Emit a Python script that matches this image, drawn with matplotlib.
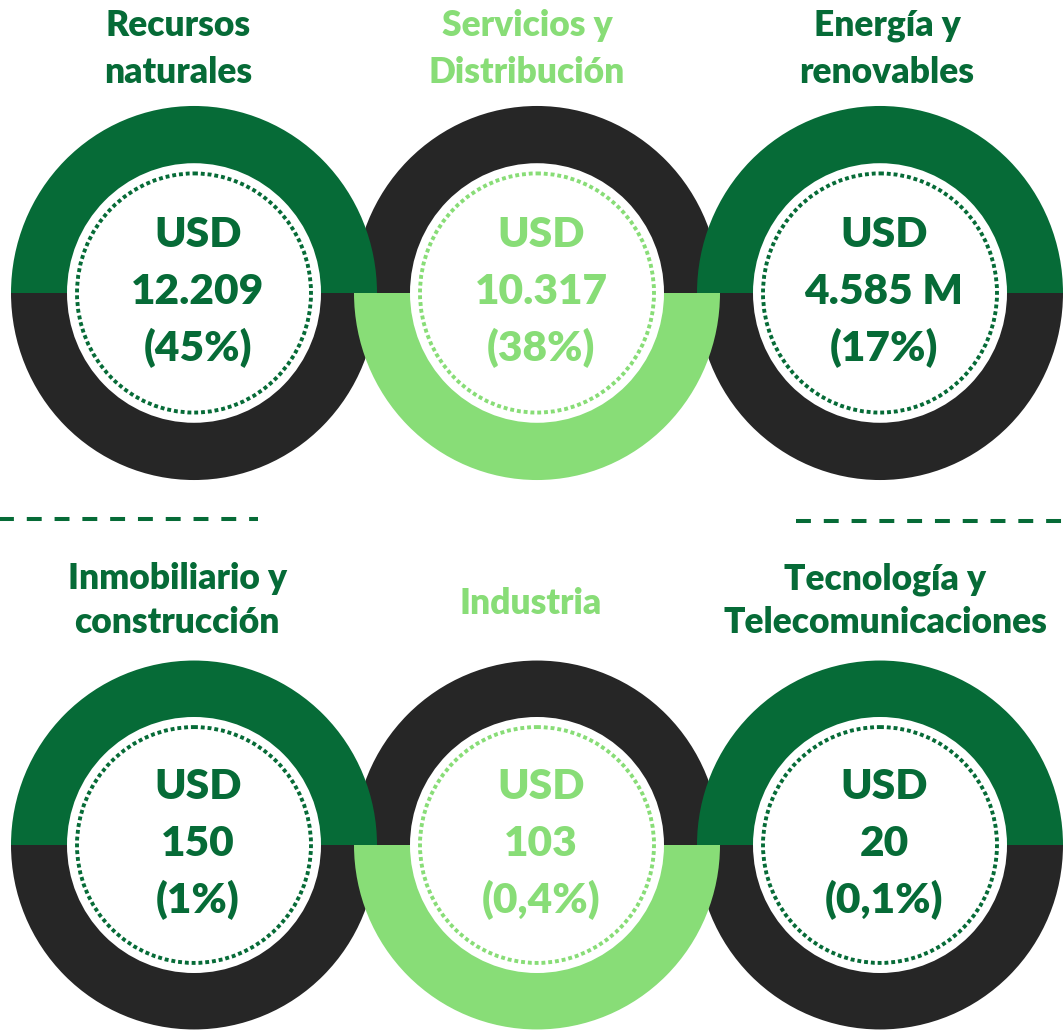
import matplotlib
matplotlib.use("Agg")
import matplotlib.pyplot as plt
from matplotlib.patches import Wedge, Circle
from matplotlib.transforms import Affine2D
from matplotlib.lines import Line2D

# ---------------- data ----------------
categories = ["Recursos\nnaturales", "Servicios y\nDistribución", "Energía y\nrenovables",
              "Inmobiliario y\nconstrucción", "Industria", "Tecnología y\nTelecomunicaciones"]
amount_labels = ["12.209", "10.317", "4.585 M", "150", "103", "20"]
share_labels = ["45%", "38%", "17%", "1%", "0,4%", "0,1%"]

# ---------------- style ----------------
DARK = "#066B37"
LIGHT = "#88DD77"
BLACK = "#262626"
FONT = ["Lato", "DejaVu Sans"]
WEIGHT = 800

W, H = 1063, 1030
fig = plt.figure(figsize=(W / 100, H / 100), dpi=100)
ax = fig.add_axes([0, 0, 1, 1])
ax.set_xlim(0, W)
ax.set_ylim(H, 0)
ax.set_aspect("auto")
ax.axis("off")

col_x = [194, 537, 880]
row_y = [293, 845]
row_sy = [1.022, 1.008]
title_x = [[178, 527, 887], [177, 531, 885]]
title_base = [[36, 83], [589, 633]]
R_OUT, R_IN, R_DOT = 183, 127, 117

for i, cat in enumerate(categories):
    row, col = divmod(i, 3)
    cx, cy, sy = col_x[col], row_y[row], row_sy[row]
    middle = (col == 1)
    tr = Affine2D().scale(1, sy) + ax.transData
    c = (cx, cy / sy)
    top_col = BLACK if middle else DARK
    bot_col = LIGHT if middle else BLACK
    accent = LIGHT if middle else DARK
    # screen-top half: angles 180..360 (y axis inverted)
    z_top = 1 if middle else 2
    z_bot = 3 if middle else 2
    ax.add_patch(Wedge(c, R_OUT, 180, 360, width=R_OUT - R_IN, transform=tr,
                       facecolor=top_col, edgecolor="none", zorder=z_top))
    ax.add_patch(Wedge(c, R_OUT, 0, 180, width=R_OUT - R_IN, transform=tr,
                       facecolor=bot_col, edgecolor="none", zorder=z_bot))
    ax.add_patch(Circle(c, R_DOT, transform=tr, fill=False, edgecolor=accent,
                        linewidth=2.8, linestyle=(0, (1, 0.75)), zorder=4))
    # title
    lines = cat.split("\n")
    if len(lines) == 1:
        bases = [sum(title_base[row]) / 2 + 3]
    else:
        bases = title_base[row]
    for ln, b in zip(lines, bases):
        ax.text(title_x[row][col], b, ln, ha="center", va="baseline", fontsize=25.5,
                fontweight=WEIGHT, color=accent, family=FONT, zorder=5)
    # centre text
    tx = cx + 4
    for s, off in zip(["USD", amount_labels[i], "(" + share_labels[i] + ")"], [-46, 11, 68]):
        ax.text(tx, cy + off, s, ha="center", va="baseline", fontsize=30.5,
                fontweight=WEIGHT, color=accent, family=FONT, zorder=5)

# dashed separators
ax.add_line(Line2D([-11, 258], [519, 519], color=DARK, linewidth=2.9,
                   linestyle=(0, (3.7, 3.2)), dash_capstyle="butt", zorder=5))
ax.add_line(Line2D([796, 1063], [521, 521], color=DARK, linewidth=2.9,
                   linestyle=(0, (3.7, 3.2)), dash_capstyle="butt", zorder=5))

fig.savefig("out.png", dpi=100, facecolor="white")
